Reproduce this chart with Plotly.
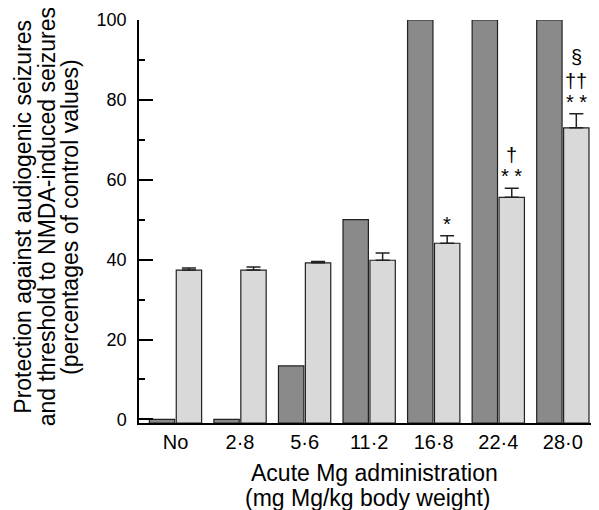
import plotly.graph_objects as go

# ---- data ----
doses = ["No", "2·8", "5·6", "11·2", "16·8", "22·4", "28·0"]
audiogenic = [0, 0, 13.4, 50, 100, 100, 100]
nmda = [37.4, 37.4, 39.2, 39.85, 44.1, 55.6, 73.0]
nmda_err = [0.5, 0.75, 0.35, 1.8, 1.9, 2.25, 3.5]
# significance marks above the NMDA bars: (category index, row, text)
sig_marks = [
    (4, 0, "*"),
    (5, 0, "* *"),
    (5, 1, "†"),
    (6, 0, "* *"),
    (6, 1, "††"),
    (6, 2, "§"),
]
y_title_lines = [
    "Protection against audiogenic seizures",
    "and threshold to NMDA-induced seizures",
    "(percentages of control values)",
]
x_title_lines = ["Acute Mg administration", "(mg Mg/kg body weight)"]

# ---- style ----
FONT = "Liberation Sans, Arial, Helvetica, sans-serif"
YMIN = -0.9
BAR_W = 0.393
DARK_OFF = -0.405
LIGHT_OFF = 0.012
row_shift = {0: 12, 1: 33, 2: 57}
# page body has an 8px default margin: shrink the figure accordingly
PAGE_PAD = 8

fig = go.Figure()
fig.add_trace(go.Bar(
    x=doses, y=[v - YMIN for v in audiogenic], base=YMIN,
    width=BAR_W, offset=DARK_OFF,
    marker=dict(color="#8a8a8a", line=dict(color="#222222", width=1.2)),
    showlegend=False,
))
fig.add_trace(go.Bar(
    x=doses, y=[v - YMIN for v in nmda], base=YMIN,
    width=BAR_W, offset=LIGHT_OFF,
    marker=dict(color="#d9d9d9", line=dict(color="#222222", width=1.2)),
    error_y=dict(type="data", array=nmda_err, arrayminus=[0] * len(nmda_err),
                 symmetric=False, color="#222222", thickness=1.5, width=7),
    showlegend=False,
))

annotations = []
for idx, row, txt in sig_marks:
    top = nmda[idx] + nmda_err[idx]
    annotations.append(dict(
        x=idx + LIGHT_OFF + BAR_W / 2, y=top, xref="x", yref="y",
        text=txt, showarrow=False, yanchor="middle",
        yshift=row_shift[row], font=dict(family=FONT, size=20, color="black"),
    ))

y_title_x = [22.7, 47.3, 70]
for i, line in enumerate(y_title_lines):
    annotations.append(dict(
        x=(y_title_x[i] - 139) / 460, y=(423 - 217) / 403,
        xref="paper", yref="paper", text=line, textangle=-90, showarrow=False,
        xanchor="center", yanchor="middle",
        font=dict(family=FONT, size=23, color="black"),
    ))

x_title_pos = [(374, 473), (367, 498)]
for (px, py), line in zip(x_title_pos, x_title_lines):
    annotations.append(dict(
        x=(px - 139) / 460, y=(423 - py) / 403,
        xref="paper", yref="paper", text=line, showarrow=False,
        xanchor="center", yanchor="middle",
        font=dict(family=FONT, size=23, color="black"),
    ))

fig.update_layout(
    width=599 - PAGE_PAD, height=510 - PAGE_PAD,
    margin=dict(l=139 - PAGE_PAD, r=0, t=20 - PAGE_PAD, b=87),
    paper_bgcolor="white", plot_bgcolor="white",
    font=dict(family=FONT, color="black"),
    annotations=annotations,
    barmode="overlay",
    xaxis=dict(
        type="category", range=[-0.565, 6.56],
        showline=True, linecolor="black", linewidth=1.5,
        ticks="", showgrid=False, zeroline=False,
        tickfont=dict(family=FONT, size=20, color="black"),
    ),
    yaxis=dict(
        range=[YMIN, 100], tick0=0, dtick=20,
        showline=True, linecolor="black", linewidth=1.5,
        ticks="inside", ticklen=14, tickwidth=1.5, tickcolor="black",
        minor=dict(ticks="inside", ticklen=6, dtick=10, tick0=0,
                   tickwidth=1.5, tickcolor="black", showgrid=False),
        showgrid=False, zeroline=False, ticklabelstandoff=7,
        tickfont=dict(family=FONT, size=18, color="black"),
    ),
)

fig.write_html("out.html")
